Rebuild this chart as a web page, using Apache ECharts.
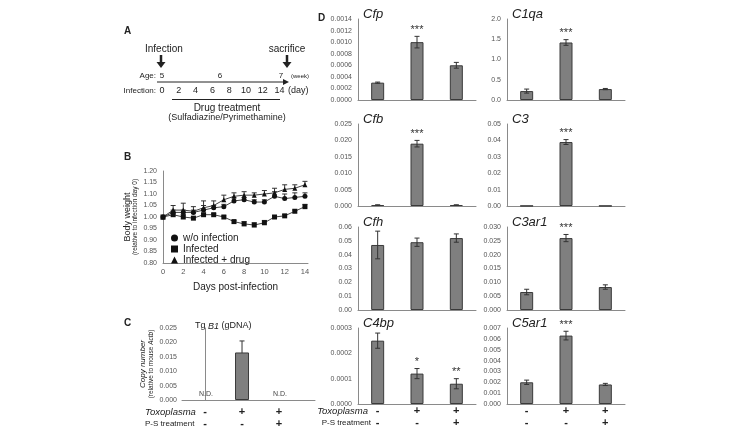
<!DOCTYPE html>
<html>
<head>
<meta charset="utf-8">
<script src="https://cdn.jsdelivr.net/npm/echarts@6/dist/echarts.min.js"></script>
<style>
  html, body { margin: 0; background: #fff; }
  #chart { width: 752px; height: 436px; }
</style>
</head>
<body>
<div id="chart"></div>
<script>
// ---- panel A: timeline ticks
var ageTicks = ['5', '6', '7']
var dayTicks = [0, 2, 4, 6, 8, 10, 12, 14]

// ---- panel B: body weight
var days = [0, 1, 2, 3, 4, 5, 6, 7, 8, 9, 10, 11, 12, 13, 14]
var woInfection = [1.00, 1.02, 1.02, 1.02, 1.03, 1.04, 1.045, 1.07, 1.075, 1.065, 1.065, 1.09, 1.08, 1.085, 1.09]
var woInfectionErr = [0, 0.01, 0.01, 0.01, 0.02, 0.01, 0.01, 0.015, 0.01, 0.01, 0.01, 0.02, 0.02, 0.02, 0.015]
var infected = [1.00, 1.01, 1.00, 0.995, 1.01, 1.01, 1.00, 0.98, 0.97, 0.965, 0.975, 1.00, 1.005, 1.025, 1.045]
var infectedErr = [0, 0.01, 0.01, 0.005, 0.005, 0.005, 0.005, 0.005, 0.01, 0.01, 0.01, 0.005, 0.005, 0.005, 0.01]
var infectedDrug = [1.00, 1.03, 1.03, 1.025, 1.04, 1.05, 1.075, 1.09, 1.095, 1.095, 1.10, 1.105, 1.12, 1.125, 1.14]
var infectedDrugErr = [0, 0.02, 0.03, 0.02, 0.03, 0.02, 0.02, 0.015, 0.015, 0.01, 0.015, 0.02, 0.02, 0.015, 0.015]

// ---- groups (C and D)
var toxo = ['-', '+', '+']
var psTreat = ['-', '-', '+']

// ---- panel C: Tg B1
var tgMean = [null, 0.0165, null]
var tgErr = [0, 0.004, 0]

// ---- panel D: complement genes
var cfpMean = [0.0003, 0.00100, 0.00060]
var cfpErr = [0.00001, 0.0001, 0.00005]
var c1qaMean = [0.22, 1.42, 0.27]
var c1qaErr = [0.05, 0.07, 0.015]
var cfbMean = [0.0003, 0.019, 0.0003]
var cfbErr = [0.00005, 0.001, 0.00005]
var c3Mean = [0.0001, 0.039, 0.0001]
var c3Err = [0, 0.0015, 0]
var cfhMean = [0.047, 0.049, 0.052]
var cfhErr = [0.01, 0.003, 0.003]
var c3ar1Mean = [0.0065, 0.026, 0.0083]
var c3ar1Err = [0.001, 0.0013, 0.0008]
var c4bpMean = [0.00025, 0.00012, 0.00008]
var c4bpErr = [0.00003, 0.00002, 0.00002]
var c5ar1Mean = [0.0020, 0.0063, 0.0018]
var c5ar1Err = [0.0002, 0.0004, 0.0001]
var stars3 = ['', '***', '']
var starsNone = ['', '', '']
var starsC4bp = ['', '*', '**']

var FONT = 'Liberation Sans, Arial, sans-serif'
var AXIS = '#8a8a8a'
var LABEL = '#555'
var INK = '#222'

var chart = echarts.init(document.getElementById('chart'))

var grids = []
var xAxes = []
var yAxes = []
var series = []
var titles = []
var graphics = []

// error bar renderer, optional stars on top
function errorBars (stars, upOnly) {
  return function (params, api) {
    var x = api.value(0)
    var y = api.value(1)
    var e = api.value(2)
    var hi = api.coord([x, y + e])
    var lo = api.coord([x, upOnly ? y : y - e])
    var ln = { stroke: '#333', lineWidth: 1 }
    var kids = []
    if (e > 0) {
      kids.push({ type: 'line', shape: { x1: hi[0], y1: hi[1], x2: lo[0], y2: lo[1] }, style: ln })
      kids.push({ type: 'line', shape: { x1: hi[0] - 2.5, y1: hi[1], x2: hi[0] + 2.5, y2: hi[1] }, style: ln })
      if (!upOnly) kids.push({ type: 'line', shape: { x1: lo[0] - 2.5, y1: lo[1], x2: lo[0] + 2.5, y2: lo[1] }, style: ln })
    }
    var s = stars ? stars[params.dataIndex] : ''
    if (s) {
      kids.push({
        type: 'text',
        style: { text: s, x: hi[0], y: hi[1] - 1, align: 'center', verticalAlign: 'bottom', fontSize: 11, fill: '#333', fontFamily: FONT }
      })
    }
    return { type: 'group', children: kids }
  }
}

function txt (text, x, y, size, opt) {
  opt = opt || {}
  graphics.push({
    type: 'text',
    x: x,
    y: y,
    rotation: opt.rotation || 0,
    style: {
      text: text,
      fontSize: size,
      fontFamily: FONT,
      fontWeight: opt.bold ? 'bold' : 'normal',
      fontStyle: opt.italic ? 'italic' : 'normal',
      fill: opt.color || INK,
      align: opt.align || 'left',
      verticalAlign: 'middle',
      rich: opt.rich
    }
  })
}

function line (x1, y1, x2, y2, w) {
  graphics.push({ type: 'line', shape: { x1: x1, y1: y1, x2: x2, y2: y2 }, style: { stroke: '#222', lineWidth: w || 1 } })
}

function tri (points) {
  graphics.push({ type: 'polygon', shape: { points: points }, style: { fill: '#222' } })
}

// ================= Panel A =================
txt('A', 124, 31, 10, { bold: true })
txt('Infection', 145, 49, 10)
line(161, 55, 161, 63, 2.5)
tri([[156.5, 62], [165.5, 62], [161, 68]])
txt('sacrifice', 287, 49, 10, { align: 'center' })
line(287, 55, 287, 63, 2.5)
tri([[282.5, 62], [291.5, 62], [287, 68]])
txt('Age:', 156, 76, 8, { align: 'right' })
var ageX = [162, 220, 281]
ageTicks.forEach(function (t, i) { txt(t, ageX[i], 76, 8, { align: 'center' }) })
txt('(week)', 291, 76, 6)
line(157, 82, 285, 82, 1)
tri([[283, 79], [289, 82], [283, 85]])
txt('Infection:', 156, 91, 8, { align: 'right' })
dayTicks.forEach(function (d) { txt(String(d), 162 + d * 8.4, 91, 9, { align: 'center' }) })
txt('(day)', 288, 91, 9)
line(172, 99.5, 280, 99.5, 1.2)
txt('Drug treatment', 227, 108, 10, { align: 'center' })
txt('(Sulfadiazine/Pyrimethamine)', 227, 118, 9, { align: 'center' })

// ================= Panel B =================
txt('B', 124, 157, 10, { bold: true })
txt('Body weight', 128, 217, 9, { rotation: Math.PI / 2, align: 'center' })
txt('(relative to infection day 0)', 135, 217, 6.5, { rotation: Math.PI / 2, align: 'center' })
var gB = grids.length
grids.push({ left: 163, top: 171, width: 145, height: 92 })
xAxes.push({
  gridIndex: gB, type: 'value', min: 0, max: 14.3, interval: 2,
  axisLine: { lineStyle: { color: AXIS } }, axisTick: { show: false }, splitLine: { show: false },
  axisLabel: { fontSize: 7.5, color: LABEL, fontFamily: FONT, margin: 5, showMaxLabel: false },
  name: 'Days post-infection', nameLocation: 'middle', nameGap: 19,
  nameTextStyle: { fontSize: 10, color: INK, fontFamily: FONT }
})
yAxes.push({
  gridIndex: gB, type: 'value', min: 0.8, max: 1.2, interval: 0.05,
  axisLine: { show: true, lineStyle: { color: AXIS } }, axisTick: { show: false }, splitLine: { show: false },
  axisLabel: { fontSize: 7, color: LABEL, fontFamily: FONT, margin: 6, formatter: function (v) { return v.toFixed(2) } }
})
var bSeries = [
  { name: 'w/o infection', data: woInfection, err: woInfectionErr, symbol: 'circle' },
  { name: 'Infected', data: infected, err: infectedErr, symbol: 'rect' },
  { name: 'Infected + drug', data: infectedDrug, err: infectedDrugErr, symbol: 'triangle' }
]
bSeries.forEach(function (s) {
  series.push({
    name: s.name, type: 'line', xAxisIndex: gB, yAxisIndex: gB,
    data: days.map(function (d, i) { return [d, s.data[i]] }),
    symbol: s.symbol, symbolSize: 5, color: '#222',
    lineStyle: { width: 1, color: '#444' }, itemStyle: { color: '#111' }, z: 3
  })
  series.push({
    type: 'custom', xAxisIndex: gB, yAxisIndex: gB,
    data: days.map(function (d, i) { return [d, s.data[i], s.err[i]] }),
    renderItem: errorBars(null, true), z: 2
  })
})

// ================= Panel C =================
txt('C', 124, 323, 10, { bold: true })
txt('Tg {i|B1} (gDNA)', 195, 326, 9, { rich: { i: { fontStyle: 'italic', fontSize: 9, fontFamily: FONT, fill: INK } } })
txt('Copy number', 143, 364, 8, { rotation: Math.PI / 2, align: 'center', italic: true })
txt('(relative to mouse {i|Actb})', 151, 364, 6.5, { rotation: Math.PI / 2, align: 'center', rich: { i: { fontStyle: 'italic', fontSize: 6.5, fontFamily: FONT, fill: INK } } })
var gC = grids.length
grids.push({ left: 182, top: 328, width: 133, height: 72 })
xAxes.push({
  gridIndex: gC, type: 'value', min: -0.62, max: 2.97,
  axisLine: { onZero: false, lineStyle: { color: AXIS } }, axisTick: { show: false },
  axisLabel: { show: false }, splitLine: { show: false }
})
yAxes.push({
  gridIndex: gC, type: 'value', min: 0, max: 0.025, interval: 0.005,
  axisLine: { show: true, lineStyle: { color: AXIS } }, axisTick: { show: false }, splitLine: { show: false },
  axisLabel: { fontSize: 7, color: LABEL, fontFamily: FONT, margin: 5, formatter: function (v) { return v.toFixed(3) } }
})
series.push({
  type: 'bar', xAxisIndex: gC, yAxisIndex: gC, barWidth: 14,
  data: tgMean.map(function (v, i) { return [i, v] }).filter(function (d) { return d[1] !== null }),
  itemStyle: { color: '#7f7f7f', borderColor: '#3a3a3a', borderWidth: 1 }
})
series.push({
  type: 'custom', xAxisIndex: gC, yAxisIndex: gC,
  data: tgMean.map(function (v, i) { return [i, v === null ? 0 : v, tgErr[i]] }),
  renderItem: function (params, api) {
    var i = params.dataIndex
    var base = api.coord([i, 0])
    var kids = [
      { type: 'text', style: { text: toxo[i], x: base[0], y: base[1] + 12, align: 'center', verticalAlign: 'middle', fontSize: 11, fontWeight: 'bold', fill: INK, fontFamily: FONT } },
      { type: 'text', style: { text: psTreat[i], x: base[0], y: base[1] + 24, align: 'center', verticalAlign: 'middle', fontSize: 11, fontWeight: 'bold', fill: INK, fontFamily: FONT } }
    ]
    if (tgMean[i] === null) {
      kids.push({ type: 'text', style: { text: 'N.D.', x: base[0] + 1, y: base[1] - 6, align: 'center', verticalAlign: 'middle', fontSize: 7, fill: '#444', fontFamily: FONT } })
    } else {
      kids.push(errorBars(null, false)(params, api))
    }
    return { type: 'group', children: kids }
  }
})
txt('Toxoplasma', 145, 412, 9.5, { italic: true })
txt('P-S treatment', 145, 424, 8)

// ================= Panel D =================
txt('D', 318, 18, 10, { bold: true })
var colLeft = [358, 507]
var rowTop = [19, 124, 227, 328]
var rowH = [81, 82, 83, 76]
var dPanels = [
  { name: 'Cfp', mean: cfpMean, err: cfpErr, stars: stars3, max: 0.0014, step: 0.0002, dec: 4, col: 0, row: 0 },
  { name: 'C1qa', mean: c1qaMean, err: c1qaErr, stars: stars3, max: 2.0, step: 0.5, dec: 1, col: 1, row: 0 },
  { name: 'Cfb', mean: cfbMean, err: cfbErr, stars: stars3, max: 0.025, step: 0.005, dec: 3, col: 0, row: 1 },
  { name: 'C3', mean: c3Mean, err: c3Err, stars: stars3, max: 0.05, step: 0.01, dec: 2, col: 1, row: 1 },
  { name: 'Cfh', mean: cfhMean, err: cfhErr, stars: starsNone, max: 0.06, step: 0.01, dec: 2, col: 0, row: 2 },
  { name: 'C3ar1', mean: c3ar1Mean, err: c3ar1Err, stars: stars3, max: 0.030, step: 0.005, dec: 3, col: 1, row: 2 },
  { name: 'C4bp', mean: c4bpMean, err: c4bpErr, stars: starsC4bp, max: 0.0003, step: 0.0001, dec: 4, col: 0, row: 3 },
  { name: 'C5ar1', mean: c5ar1Mean, err: c5ar1Err, stars: stars3, max: 0.007, step: 0.001, dec: 3, col: 1, row: 3 }
]
dPanels.forEach(function (p) {
  var g = grids.length
  var bottomRow = p.row === 3
  grids.push({ left: colLeft[p.col], top: rowTop[p.row], width: 118, height: rowH[p.row] })
  xAxes.push({
    gridIndex: g, type: 'category', data: ['a', 'b', 'c'],
    axisLine: { lineStyle: { color: AXIS } }, axisTick: { show: false },
    axisLabel: {
      show: bottomRow, interval: 0, margin: 1, lineHeight: 12,
      fontSize: 11, fontWeight: 'bold', color: INK, fontFamily: FONT,
      formatter: function (v, i) { return toxo[i] + '\n' + psTreat[i] }
    }
  })
  var dec = p.dec
  yAxes.push({
    gridIndex: g, type: 'value', min: 0, max: p.max, interval: p.step,
    axisLine: { show: true, lineStyle: { color: AXIS } }, axisTick: { show: false }, splitLine: { show: false },
    axisLabel: { fontSize: 7, color: LABEL, fontFamily: FONT, margin: 6, formatter: function (v) { return v.toFixed(dec) } }
  })
  series.push({
    type: 'bar', xAxisIndex: g, yAxisIndex: g, data: p.mean, barWidth: 13,
    itemStyle: { color: '#7f7f7f', borderColor: '#3a3a3a', borderWidth: 1 }
  })
  series.push({
    type: 'custom', xAxisIndex: g, yAxisIndex: g,
    data: p.mean.map(function (m, i) { return [i, m, p.err[i]] }),
    renderItem: errorBars(p.stars, false), z: 3
  })
  titles.push({
    text: p.name, left: colLeft[p.col] + 5, top: rowTop[p.row] - 11, padding: 0,
    textStyle: { fontStyle: 'italic', fontWeight: 'normal', fontSize: 13, color: INK, fontFamily: FONT }
  })
})
txt('Toxoplasma', 368, 411, 9.5, { italic: true, align: 'right' })
txt('P-S treatment', 371, 423, 8, { align: 'right' })

chart.setOption({
  animation: false,
  backgroundColor: '#fff',
  title: titles,
  legend: {
    orient: 'vertical', left: 166, top: 228, itemGap: 1, itemWidth: 7, itemHeight: 7,
    textStyle: { fontSize: 10, color: INK, fontFamily: FONT },
    data: [
      { name: 'w/o infection', icon: 'circle' },
      { name: 'Infected', icon: 'rect' },
      { name: 'Infected + drug', icon: 'triangle' }
    ]
  },
  grid: grids,
  xAxis: xAxes,
  yAxis: yAxes,
  series: series,
  graphic: graphics
})
</script>
</body>
</html>
